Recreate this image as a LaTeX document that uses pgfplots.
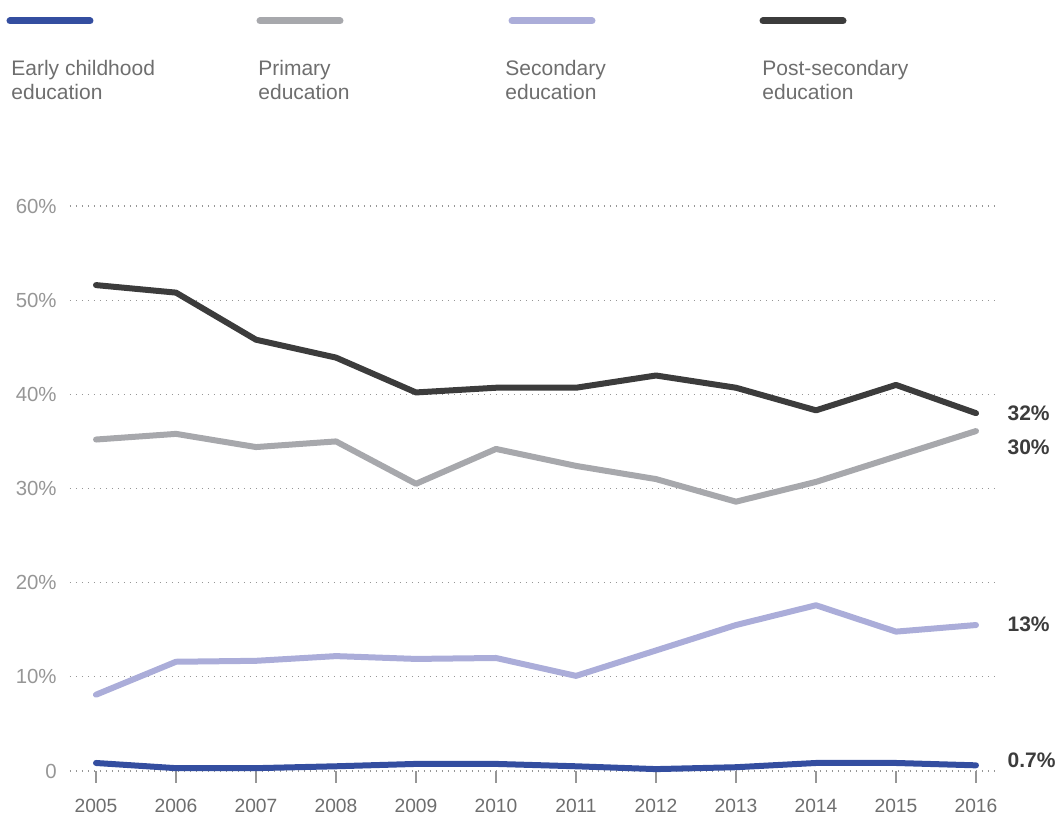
\documentclass[border=0pt]{standalone}
\usepackage{pgfplots}
\pgfplotsset{compat=1.18}
\usepackage{fontspec}
\setmainfont{Liberation Sans}
\definecolor{cBlue}{RGB}{52,78,160}
\definecolor{cGray}{RGB}{167,168,172}
\definecolor{cPurple}{RGB}{171,173,217}
\definecolor{cDark}{RGB}{60,60,60}
\definecolor{cText}{RGB}{110,110,110}
\definecolor{cTick}{RGB}{150,150,150}
\definecolor{cGrid}{RGB}{150,150,150}
\begin{document}
\begin{tikzpicture}
\useasboundingbox (-35pt,-23.5pt) rectangle (493.5pt,385.5pt);
\begin{axis}[
  at={(0pt,0pt)}, anchor=origin,
  scale only axis,
  width=462.5pt, height=282.5pt,
  xmin=2004.675, xmax=2016.2375,
  ymin=0, ymax=60,
  clip=false,
  axis line style={draw=none},
  xtick={2005,2006,2007,2008,2009,2010,2011,2012,2013,2014,2015,2016},
  xticklabels={2005,2006,2007,2008,2009,2010,2011,2012,2013,2014,2015,2016},
  ytick={0,10,20,30,40,50,60},
  yticklabels={0,10\%,20\%,30\%,40\%,50\%,60\%},
  xtick pos=bottom, ytick pos=left,
  xtick align=outside, ytick align=inside,
  major tick length=6pt,
  xtick style={draw=cTick, line width=0.6pt},
  ytick style={draw=none},
  xticklabel style={font=\fontsize{9.6}{10}\selectfont, text=cText, inner sep=0pt, anchor=north},
  xticklabel shift=8pt,
  yticklabel style={font=\fontsize{10.2}{11}\selectfont, text=cTick, inner sep=0pt, anchor=east},
  yticklabel shift=6.5pt,
  ymajorgrids,
  grid style={draw=cGrid, line width=0.6pt, dash pattern=on 0.6pt off 2.4pt},
  every axis plot/.append style={line width=3pt, line cap=round, line join=round, mark=none},
]
% Post-secondary
\addplot[cDark] coordinates {
(2005,51.6)(2006,50.8)(2007,45.8)(2008,43.9)(2009,40.2)(2010,40.7)
(2011,40.7)(2012,42.0)(2013,40.7)(2014,38.3)(2015,41.0)(2016,38.0)};
% Primary
\addplot[cGray] coordinates {
(2005,35.2)(2006,35.8)(2007,34.4)(2008,35.0)(2009,30.5)(2010,34.2)
(2011,32.4)(2012,31.0)(2013,28.6)(2014,30.7)(2015,33.4)(2016,36.1)};
% Secondary
\addplot[cPurple] coordinates {
(2005,8.1)(2006,11.6)(2007,11.7)(2008,12.2)(2009,11.9)(2010,12.0)
(2011,10.1)(2012,12.8)(2013,15.5)(2014,17.6)(2015,14.8)(2016,15.5)};
% Early childhood
\addplot[cBlue] coordinates {
(2005,0.85)(2006,0.3)(2007,0.3)(2008,0.5)(2009,0.75)(2010,0.75)
(2011,0.5)(2012,0.2)(2013,0.4)(2014,0.85)(2015,0.85)(2016,0.6)};
\begin{scope}[every node/.style={font=\fontsize{10.5}{12}\bfseries\selectfont, text=cDark, inner sep=0pt, anchor=west}]
\node at (axis cs:2016.39,38.0) {32\%};
\node at (axis cs:2016.39,34.4) {30\%};
\node at (axis cs:2016.39,15.6) {13\%};
\node at (axis cs:2016.39,1.17) {0.7\%};
\end{scope}
\end{axis}
% legend
\begin{scope}[line width=3.5pt, line cap=round]
\draw[cBlue] (-30pt,375pt) -- (10pt,375pt);
\draw[cGray] (95pt,375pt) -- (135pt,375pt);
\draw[cPurple] (221pt,375pt) -- (261pt,375pt);
\draw[cDark] (346.5pt,375pt) -- (386.5pt,375pt);
\end{scope}
\begin{scope}[every node/.style={font=\fontsize{10.5}{12}\selectfont, text=cText, inner sep=0pt, anchor=base west}]
\node at (-29.5pt,347.5pt) {Early childhood};
\node at (-29.5pt,335.5pt) {education};
\node at (94pt,347.5pt) {Primary};
\node at (94pt,335.5pt) {education};
\node at (217.5pt,347.5pt) {Secondary};
\node at (217.5pt,335.5pt) {education};
\node at (346pt,347.5pt) {Post-secondary};
\node at (346pt,335.5pt) {education};
\end{scope}
\end{tikzpicture}
\end{document}
